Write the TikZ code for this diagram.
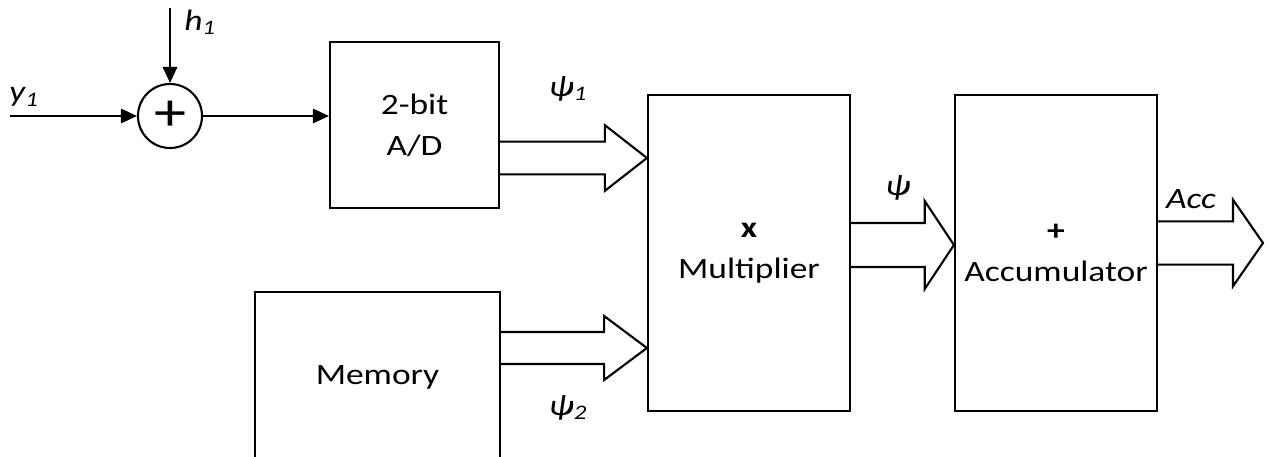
\documentclass[tikz,border=0pt]{standalone}
\usepackage{fontspec}
\setmainfont{Carlito}[FakeStretch=1.2]
\usetikzlibrary{arrows.meta,calc}

\begin{document}
\begin{tikzpicture}[x=0.025cm,y=-0.025cm,
    box/.style={draw,line width=1.5pt,align=center,inner sep=0pt,
      font=\fontsize{21}{29}\selectfont},
    arr/.style={-{Triangle[length=4mm,width=3.6mm]},line width=1.5pt},
    lbl/.style={inner sep=0pt,font=\fontsize{21}{25}\selectfont\itshape},
    fat/.style 2 args={draw,line width=1.5pt,line join=miter,
      to path={let \p1=(\tikztostart),\p2=(\tikztotarget) in
        (\x1,\y2+#1) -- (\x2-#2,\y2+#1) -- (\x2-#2,\y2+2*#1) -- (\x2,\y2)
        -- (\x2-#2,\y2-2*#1) -- (\x2-#2,\y2-#1) -- (\x1,\y2-#1)}}
  ]
    \useasboundingbox (0,0) rectangle (1273,457);
    \node[draw,circle,line width=1.5pt,minimum size=1.6cm,inner sep=0pt,
      font=\fontsize{38}{38}\selectfont] (sum) at (170,116) {+};
    \node[box,minimum width=4.225cm,minimum height=4.15cm] (ad) at (414.5,125) {2-bit\\A/D};
    \node[box,minimum width=6.125cm,minimum height=4.25cm] (mem) at (377.5,377) {Memory};
    \node[box,minimum width=5.05cm,minimum height=7.9cm] (mult) at (749,253) {\textbf{x}\\Multiplier};
    \node[box,minimum width=5.05cm,minimum height=7.9cm] (acc) at (1056,253) {\textbf{+}\\Accumulator};
    \coordinate (yin) at (10,116);
    \coordinate (hin) at (170,8);
    \coordinate (out) at (1263,243);
    \draw[arr] (yin) -- (sum);
    \draw[arr] (hin) -- (sum);
    \draw[arr] (sum) -- (sum -| ad.west);
    \draw[fat={0.41cm}{1.05cm}] (ad.east |- 0,158) to (mult.west |- 0,158);
    \draw[fat={0.40cm}{1.07cm}] (mem.east |- 0,348) to (mult.west |- 0,348);
    \draw[fat={0.55cm}{0.73cm}] (mult.east |- 0,245) to (acc.west |- 0,245);
    \draw[fat={0.54cm}{0.75cm}] (acc.east |- out) to (out);
    \node[lbl] (ylab) at (24,97) {y\textsubscript{1}};
    \node[lbl] (hlab) at (200,22) {h\textsubscript{1}};
    \node[lbl] (p1lab) at (568,89) {ψ\textsubscript{1}};
    \node[lbl] (p2lab) at (568,408) {ψ\textsubscript{2}};
    \node[lbl] (plab) at (898,188) {ψ};
    \node[lbl] (acclab) at (1191,199) {Acc};
  \end{tikzpicture}
\end{document}
